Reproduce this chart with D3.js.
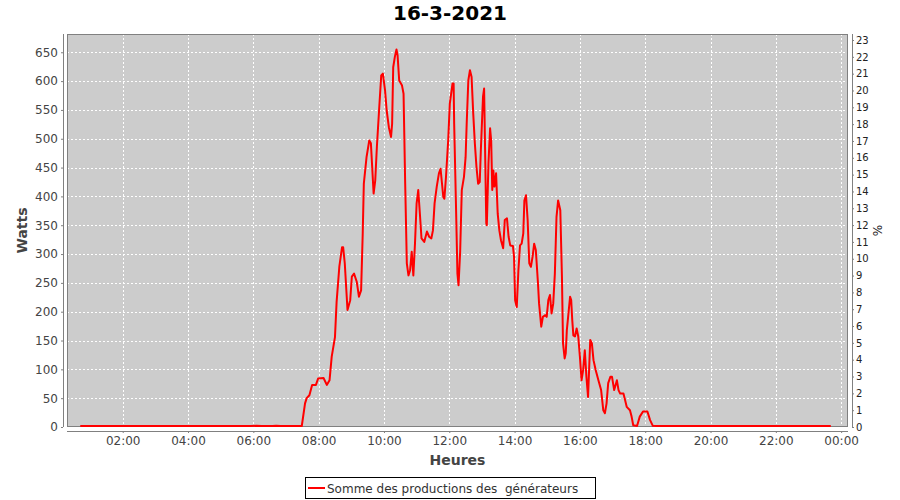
<!DOCTYPE html>
<html><head><meta charset="utf-8">
<script src="https://cdn.jsdelivr.net/npm/d3@7"></script>
<style>
body{margin:0;background:#fff;}
text{font-family:"DejaVu Sans",sans-serif;}
</style></head>
<body><svg id="c" width="900" height="500"></svg>
<script>
const title = "16-3-2021";
const yLabel = "Watts";
const xLabel = "Heures";
const y2Label = "%";
const seriesName = "Somme des productions des  générateurs";
const wattTicks = [0,50,100,150,200,250,300,350,400,450,500,550,600,650];
const pctTicks = d3.range(0,24);
const times = ["00:42","05:50","05:55","06:05","06:15","06:35","06:42","06:50","06:55","07:25",
"07:29","07:35","07:38","07:43","07:48","07:55","07:59","08:09","08:15","08:20","08:24","08:30","08:33","08:38","08:43","08:45","08:48","08:53","08:58",
"09:01","09:05","09:10","09:14","09:18","09:21","09:23","09:28","09:33","09:36","09:41","09:44","09:47","09:51","09:55","09:58",
"10:02","10:05","10:09","10:13","10:15","10:17","10:20","10:23","10:25","10:28","10:33","10:36","10:39","10:42","10:45","10:48","10:51","10:54","10:57",
"11:00","11:03","11:06","11:09","11:14","11:19","11:23","11:27","11:30","11:33","11:37","11:41","11:44","11:49","11:51","11:54","11:58",
"12:01","12:06","12:08","12:09","12:12","12:15","12:17","12:20","12:23","12:27","12:30","12:32","12:35","12:38","12:41","12:44","12:47","12:50","12:53","12:56","12:58",
"13:02","13:04","13:08","13:09","13:12","13:15","13:17","13:19","13:21","13:23","13:26","13:29","13:32","13:35","13:39","13:42","13:46","13:49","13:52","13:57","13:59",
"14:01","14:04","14:07","14:10","14:13","14:16","14:18","14:21","14:24","14:27","14:30","14:33","14:36","14:39","14:43","14:45","14:49","14:52","14:56","14:59",
"15:02","15:05","15:08","15:11","15:14","15:17","15:20","15:24","15:27","15:29","15:32","15:34","15:36","15:39","15:42","15:44","15:46","15:48","15:51","15:54","15:57",
"16:00","16:03","16:06","16:09","16:12","16:15","16:19","16:22","16:25","16:29","16:34","16:39","16:43","16:46","16:49","16:52","16:56","16:59",
"17:03","17:08","17:11","17:14","17:20","17:23","17:26","17:32","17:35","17:38","17:45","17:50","17:56",
"18:04","18:09","18:14","18:20","19:30","21:00","22:00","22:05","23:41"];
const watts = [0,0,1,2,0,0,2,1,0,0,
0,41,50,55,73,73,84,85,73,81,122,156,217,278,312,312,284,203,220,
261,266,252,226,237,336,422,468,497,492,405,428,486,549,610,613,
584,549,520,503,526,624,642,655,645,601,593,578,422,284,263,272,304,263,318,
388,411,370,327,321,339,330,327,341,388,417,440,448,399,396,434,497,
561,596,596,526,399,266,246,304,411,434,468,526,601,619,607,544,492,451,422,425,480,
573,587,353,350,457,518,497,411,445,417,440,370,341,324,310,359,362,330,315,314,295,
220,208,272,315,318,336,393,402,359,284,278,295,318,307,249,214,174,191,194,191,
220,229,197,214,266,364,393,376,261,145,119,128,168,197,226,220,185,159,157,171,157,
122,81,99,133,87,52,151,145,116,99,81,64,29,24,41,76,87,87,
64,81,64,58,58,47,35,29,18,3,0,18,27,
27,12,2,1,1,1,1,0,0];

const svg = d3.select("#c");
const W = 900, H = 500;
const pl = 67, pr = 848, pt = 34, pb = 427;
const day = (s) => { const [h,m] = s.split(":").map(Number); return new Date(2021,2,16,h,m); };
const data = times.map((t,i)=>({t:day(t), v:watts[i]}));

const x = d3.scaleTime().domain([new Date(2021,2,16,0,17,38), new Date(2021,2,17,0,12,36)]).range([pl,pr]);
const y = d3.scaleLinear().domain([0,681.7]).range([pb,pt]);
const y2 = d3.scaleLinear().domain([0,23.357]).range([pb,pt]);

svg.append("rect").attr("x",0).attr("y",0).attr("width",W).attr("height",H).attr("fill","#fff");
svg.append("rect").attr("x",pl).attr("y",pt).attr("width",pr-pl).attr("height",pb-pt).attr("fill","#cccccc");

const xTicks = d3.timeHour.every(2).range(new Date(2021,2,16,1), new Date(2021,2,17,0,10));
// grid
svg.append("g").selectAll("line").data(xTicks).join("line")
  .attr("x1",d=>Math.round(x(d))+0.5).attr("x2",d=>Math.round(x(d))+0.5).attr("y1",pt).attr("y2",pb)
  .attr("stroke","#fff").attr("stroke-width",1).attr("stroke-dasharray","2,2");
svg.append("g").selectAll("line").data(wattTicks.filter(d=>d>0)).join("line")
  .attr("x1",pl).attr("x2",pr).attr("y1",d=>Math.round(y(d))+0.5).attr("y2",d=>Math.round(y(d))+0.5)
  .attr("stroke","#fff").attr("stroke-width",1).attr("stroke-dasharray","2,2");

svg.append("rect").attr("x",pl+0.5).attr("y",pt+0.5).attr("width",pr-pl-1).attr("height",pb-pt-1)
  .attr("fill","none").attr("stroke","#808080");

// line
const line = d3.line().x(d=>x(d.t)).y(d=>Math.min(y(d.v), pb-1)).defined(d=>d.v!=null);
svg.append("path").datum(data).attr("d",line).attr("fill","none").attr("stroke","#ff0000")
  .attr("stroke-width",2).attr("stroke-linejoin","round");

// axes
const axisColor = "#808080";
const gx = svg.append("g").attr("transform",`translate(0,${pb+4})`)
  .call(d3.axisBottom(x).tickValues(xTicks).tickFormat(d3.timeFormat("%H:%M")).tickSizeOuter(0).tickSize(2).tickPadding(3));
const gy = svg.append("g").attr("transform",`translate(${pl-4},0)`)
  .call(d3.axisLeft(y).tickValues(wattTicks).tickSizeOuter(0).tickSize(2).tickPadding(3));
const gy2 = svg.append("g").attr("transform",`translate(${pr+4},0)`)
  .call(d3.axisRight(y2).tickValues(pctTicks).tickSizeOuter(0).tickSize(2).tickPadding(2));
[gx,gy,gy2].forEach(g=>{
  g.select(".domain").attr("stroke",axisColor);
  g.selectAll(".tick line").attr("stroke",axisColor);
});
gx.select(".domain").attr("d",`M${pl},0.5H${pr}`);
gy.select(".domain").attr("d",`M0.5,${pt}V${pb}`);
gy2.select(".domain").attr("d",`M0.5,${pt}V${pb}`);
gx.selectAll(".tick text").attr("font-size",12).attr("fill","#444").attr("font-family","DejaVu Sans");
gy.selectAll(".tick text").attr("font-size",12).attr("fill","#444").attr("font-family","DejaVu Sans");
gy2.selectAll(".tick text").attr("font-size",10).attr("fill","#222").attr("font-family","DejaVu Sans");

// labels
svg.append("text").attr("x",450).attr("y",20).attr("text-anchor","middle").attr("font-size",20)
  .attr("font-weight","bold").attr("fill","#000").text(title);
svg.append("text").attr("x",(pl+pr)/2).attr("y",465).attr("text-anchor","middle").attr("font-size",14)
  .attr("font-weight","bold").attr("fill","#444").text(xLabel);
svg.append("text").attr("transform",`translate(27,${(pt+pb)/2}) rotate(-90)`).attr("text-anchor","middle")
  .attr("font-size",14).attr("font-weight","bold").attr("fill","#444").text(yLabel);
svg.append("text").attr("transform",`translate(882,${(pt+pb)/2}) rotate(-90)`).attr("text-anchor","middle")
  .attr("font-size",12).attr("fill","#222").text(y2Label);

// legend
const lg = svg.append("g");
lg.append("rect").attr("x",305.5).attr("y",477.5).attr("width",290).attr("height",21).attr("fill","#fff").attr("stroke","#000");
lg.append("line").attr("x1",308).attr("x2",325).attr("y1",488).attr("y2",488).attr("stroke","#ff0000").attr("stroke-width",2);
lg.append("text").attr("x",327).attr("y",492.5).attr("font-size",12).attr("fill","#333")
  .style("white-space","pre").text(seriesName);
</script></body></html>
